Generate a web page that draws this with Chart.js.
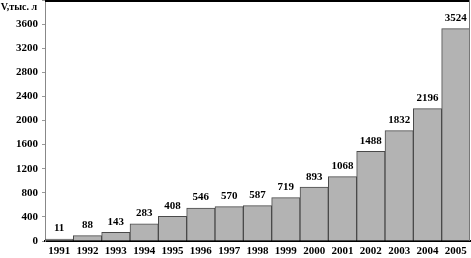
<!DOCTYPE html>
<html>
<head>
<meta charset="utf-8">
<script src="https://cdn.jsdelivr.net/npm/chart.js@4.4.1/dist/chart.umd.min.js"></script>
<style>
  html, body { margin: 0; padding: 0; background: #fff; }
  #wrap { width: 471px; height: 258px; }
</style>
</head>
<body>
<div id="wrap"><canvas id="myChart" width="471" height="258"></canvas></div>
<script>
// data
const years = ['1991', '1992', '1993', '1994', '1995', '1996', '1997', '1998',
               '1999', '2000', '2001', '2002', '2003', '2004', '2005'];
const volumes = [11, 88, 143, 283, 408, 546, 570, 587, 719, 893, 1068, 1488, 1832, 2196, 3524];
const yUnit = 'V,тыс. л';

const serif = '"Liberation Serif", "DejaVu Serif", serif';

// value labels over the bars + frame + unit text
const labelsPlugin = {
    id: 'labelsPlugin',
    afterDatasetsDraw(chart) {
        const ctx = chart.ctx;
        const area = chart.chartArea;
        const meta = chart.getDatasetMeta(0);
        ctx.save();
        ctx.font = 'bold 11px ' + serif;
        ctx.fillStyle = '#000';
        ctx.textAlign = 'center';
        ctx.textBaseline = 'bottom';
        meta.data.forEach((bar, i) => {
            ctx.fillText(String(volumes[i]), bar.x, Math.min(bar.y, area.bottom - 2) - 5);
        });

        // top and right frame
        ctx.strokeStyle = '#000';
        ctx.lineWidth = 2;
        ctx.beginPath();
        ctx.moveTo(area.left, area.top + 1);
        ctx.lineTo(area.right, area.top + 1);
        ctx.stroke();
        ctx.strokeStyle = '#777';
        ctx.lineWidth = 1;
        ctx.beginPath();
        ctx.moveTo(area.right - 0.5, area.top);
        ctx.lineTo(area.right - 0.5, area.bottom);
        ctx.stroke();

        // unit in place of the top tick label
        ctx.font = 'bold 10px ' + serif;
        ctx.textAlign = 'right';
        ctx.textBaseline = 'middle';
        ctx.fillText(yUnit, area.left - 8, area.top + 7);
        ctx.restore();
    }
};

let ctx = document.getElementById('myChart').getContext('2d');
let chart = new Chart(ctx, {
    type: 'bar',
    data: {
        labels: years,
        datasets: [{
            data: volumes,
            backgroundColor: '#b3b3b3',
            borderColor: '#4a4a4a',
            borderWidth: 1,
            barPercentage: 1,
            categoryPercentage: 1,
            minBarLength: 2
        }]
    },
    options: {
        responsive: false,
        animation: false,
        layout: { padding: { top: 0, right: 1, left: 0, bottom: 0 } },
        plugins: {
            legend: { display: false },
            tooltip: { enabled: false }
        },
        scales: {
            x: {
                grid: { display: false },
                border: { color: '#000', width: 2 },
                ticks: {
                    color: '#000',
                    font: { family: serif, size: 11, weight: 'bold' },
                    padding: -4,
                    maxRotation: 0,
                    autoSkip: false
                },
                afterFit(scale) { scale.height = 17; scale.paddingLeft = 0; scale.paddingRight = 0; }
            },
            y: {
                min: 0,
                max: 4000,
                grid: { drawOnChartArea: false, drawTicks: true, tickLength: 3, color: '#999' },
                border: { color: '#888', width: 1 },
                ticks: {
                    stepSize: 400,
                    color: '#000',
                    padding: 4,
                    font: { family: serif, size: 11, weight: 'bold' },
                    callback: v => (v >= 4000 ? '' : v)
                },
                afterFit(scale) { scale.width = 45; scale.paddingTop = 0; scale.paddingBottom = 0; }
            }
        }
    },
    plugins: [labelsPlugin]
});
</script>
</body>
</html>
